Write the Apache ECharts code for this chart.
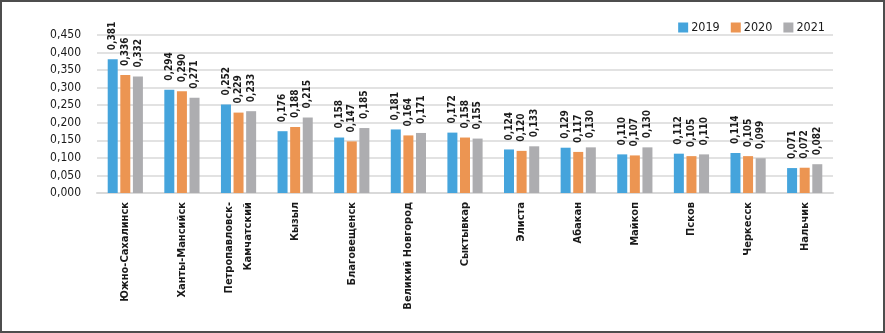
<!DOCTYPE html>
<html>
<head>
<meta charset="utf-8">
<script src="https://cdn.jsdelivr.net/npm/echarts@6/dist/echarts.min.js"></script>
<style>
  html, body { margin: 0; padding: 0; background: #fff; }
  #chart { width: 885px; height: 333px; }
</style>
</head>
<body>
<div id="chart"></div>
<script>
// Cities along the x axis
const cities = [
  'Южно-Сахалинск', 'Ханты-Мансийск', 'Петропавловск-\nКамчатский', 'Кызыл',
  'Благовещенск', 'Великий Новгород', 'Сыктывкар', 'Элиста', 'Абакан',
  'Майкоп', 'Псков', 'Черкесск', 'Нальчик'
];
const years = ['2019', '2020', '2021'];
const values2019 = [0.381, 0.294, 0.252, 0.176, 0.158, 0.181, 0.172, 0.124, 0.129, 0.110, 0.112, 0.114, 0.071];
const values2020 = [0.336, 0.290, 0.229, 0.188, 0.147, 0.164, 0.158, 0.120, 0.117, 0.107, 0.105, 0.105, 0.072];
const values2021 = [0.332, 0.271, 0.233, 0.215, 0.185, 0.171, 0.155, 0.133, 0.130, 0.130, 0.110, 0.099, 0.082];
const colors = ['#45a4dc', '#ec9552', '#adadb0'];

const FONT = '"DejaVu Sans Condensed", "Liberation Sans Narrow", sans-serif';
const fmt = v => v.toFixed(3).replace('.', ',');

function barSeries(name, data, color) {
  return {
    name: name,
    type: 'bar',
    data: data,
    barWidth: 10,
    barGap: '26%',
    itemStyle: { color: color },
    label: {
      show: true,
      position: 'top',
      rotate: 90,
      align: 'left',
      verticalAlign: 'middle',
      distance: 9,
      fontFamily: FONT,
      fontWeight: 'bold',
      fontSize: 10,
      color: '#1a1a1a',
      formatter: p => fmt(p.value)
    }
  };
}

const chart = echarts.init(document.getElementById('chart'));
chart.setOption({
  animation: false,
  color: colors,
  graphic: [{
    type: 'rect',
    shape: { x: 1, y: 1, width: 883, height: 331 },
    style: { fill: 'none', stroke: '#4d4d4d', lineWidth: 2 },
    silent: true
  }],
  legend: {
    data: years,
    right: 55,
    top: 16,
    itemWidth: 10,
    itemHeight: 10,
    itemGap: 11,
    icon: 'rect',
    textStyle: { fontFamily: FONT, fontSize: 12.5, color: '#1a1a1a', padding: [0, 0, 0, -2] }
  },
  grid: { left: 97, right: 52, top: 35, bottom: 140, containLabel: false },
  xAxis: {
    type: 'category',
    data: cities,
    axisLine: { show: true, lineStyle: { color: '#d9d9d9', width: 2 } },
    axisTick: { show: false },
    axisLabel: {
      rotate: 90,
      interval: 0,
      margin: 9,
      fontFamily: FONT,
      fontWeight: 'bold',
      fontSize: 11,
      lineHeight: 19,
      color: '#1a1a1a'
    }
  },
  yAxis: {
    type: 'value',
    min: 0,
    max: 0.45,
    interval: 0.05,
    axisLine: { show: false },
    axisTick: { show: false },
    splitLine: { lineStyle: { color: '#d9d9d9', width: 1.5 } },
    axisLabel: {
      margin: 16,
      fontFamily: FONT,
      fontSize: 12,
      color: '#1a1a1a',
      formatter: v => fmt(v)
    }
  },
  series: [
    barSeries(years[0], values2019, colors[0]),
    barSeries(years[1], values2020, colors[1]),
    barSeries(years[2], values2021, colors[2])
  ]
});
</script>
</body>
</html>
